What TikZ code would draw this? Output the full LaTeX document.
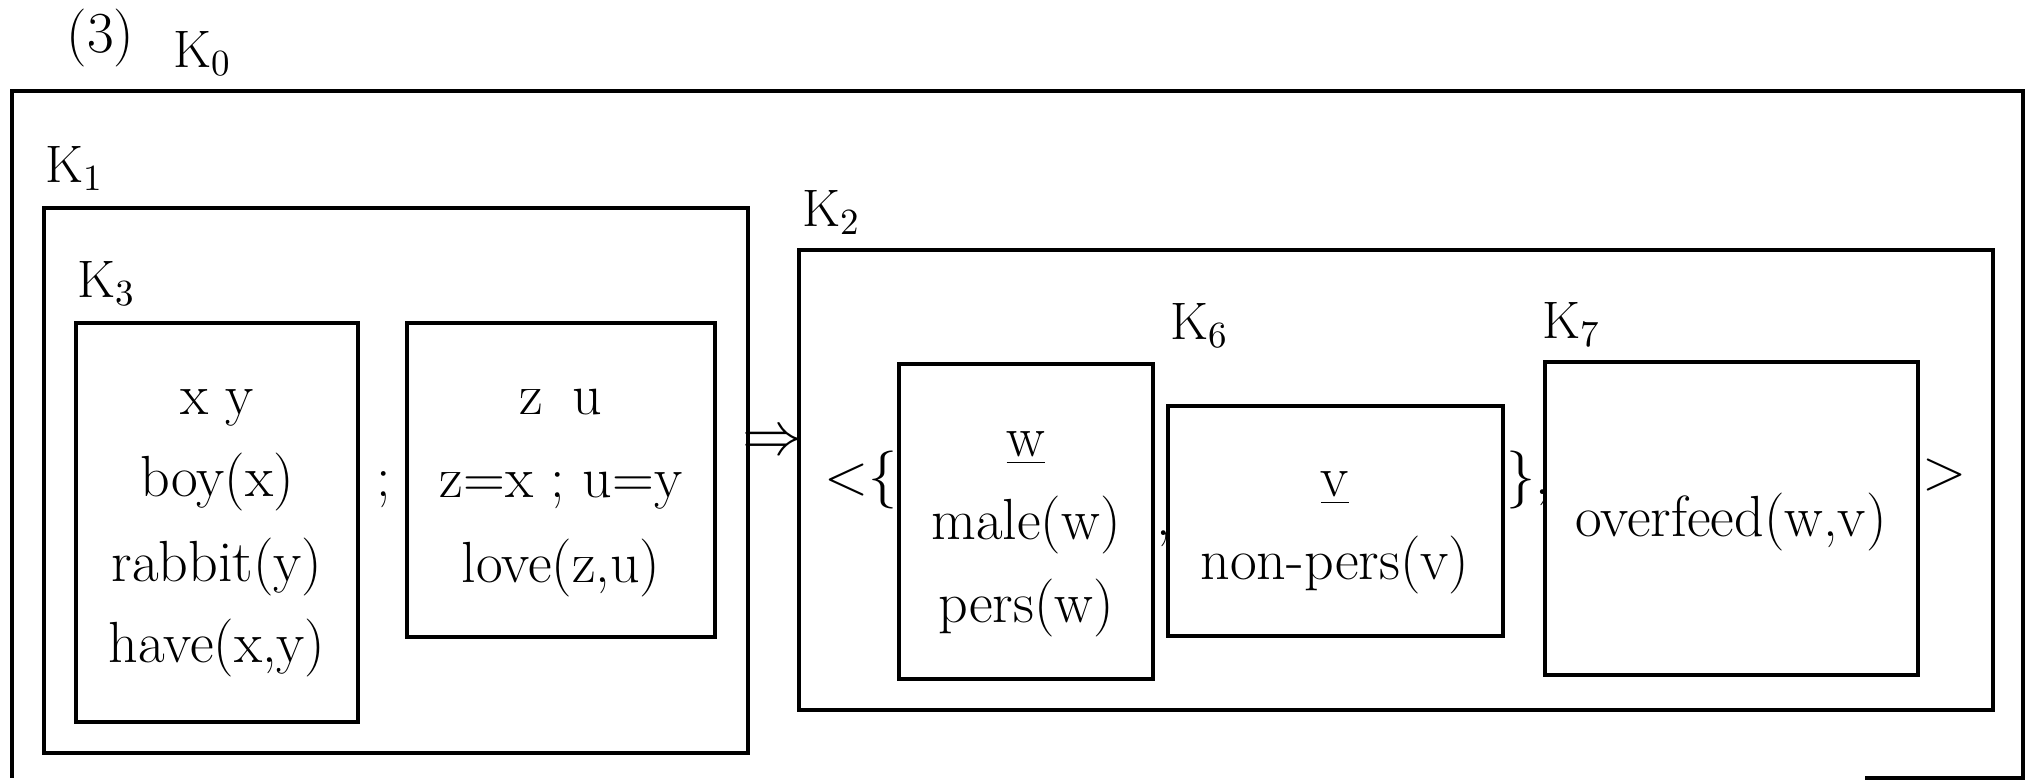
\documentclass[tikz,border=0pt]{standalone}
\usepackage{fontspec}
\usetikzlibrary{fit}

\begin{document}
\begin{tikzpicture}[x=0.01cm, y=-0.01cm,
          font=\fontsize{15}{18}\selectfont,
          drs/.style={draw, line width=0.9pt, inner sep=0pt},
          cond/.style={anchor=base, inner sep=0pt, font=\fontsize{16.5}{20}\selectfont},
          lbl/.style={anchor=base west, inner sep=0pt}
        ]
        \useasboundingbox (0,0) rectangle (2027,780);

        % Outer box K0 (runs off the foot of the page)
        \draw[line width=0.9pt] (12,778) |- (2023,91) -- (2023,778) -- (1865,778);
        \node[lbl, font=\fontsize{16.5}{20}\selectfont] (num) at (66,53) {(3)};
        \node[lbl] (lk0) at (173,68) {K\textsubscript{0}};

        % K1 with its two sub-DRSs
        \node[drs, fit={(44,208) (748,753)}] (k1) {};
        \node[lbl] (lk1) at (45,183) {K\textsubscript{1}};
        \node[lbl] (lk3) at (77,298) {K\textsubscript{3}};
        \node[drs, fit={(76,323) (358,722)}] (k3) {};
        \node[cond] (xy)   at (217,415) {x~y};
        \node[cond] (boy)  at (217,497) {boy(x)};
        \node[cond] (rab)  at (217,582) {rabbit(y)};
        \node[cond] (have) at (217,663) {have(x,y)};
        \node[cond] (semi) at (384,497) {;};
        \node[drs, fit={(407,323) (715,637)}] (kzu) {};
        \node[cond] (zu)   at (561,415) {z\enspace u};
        \node[cond] (eq)   at (561,498) {z=x ; u=y};
        \node[cond] (love) at (561,583) {love(z,u)};

        \node[cond] (impl) at (773,455) {$\Rightarrow$};

        % K2
        \node[drs, fit={(799,250) (1993,710)}] (k2) {};
        \node[lbl] (lk2) at (802,227) {K\textsubscript{2}};
        \node[cond, anchor=base east] (open) at (898,495) {<\{};
        \node[drs, fit={(899,364) (1153,679)}] (kw) {};
        \node[cond] (w)    at (1026,457) {\underline{w}};
        \node[cond] (male) at (1026,540) {male(w)};
        \node[cond] (pers) at (1026,623) {pers(w)};
        \node[cond, anchor=base west] (comma) at (1156,536) {,};
        \node[lbl] (lk6) at (1170,340) {K\textsubscript{6}};
        \node[drs, fit={(1168,406) (1503,636)}] (kv) {};
        \node[cond] (v)    at (1335,497) {\underline{v}};
        \node[cond] (npers) at (1335,580) {non-pers(v)};
        \node[cond, anchor=base west] (close) at (1506,495) {\},};
        \node[lbl] (lk7) at (1542,339) {K\textsubscript{7}};
        \node[drs, fit={(1545,362) (1918,675)}] (k7) {};
        \node[cond] (feed) at (1731,537) {overfeed(w,v)};
        \node[cond, anchor=base west] (end) at (1922,490) {>};
      \end{tikzpicture}
\end{document}
